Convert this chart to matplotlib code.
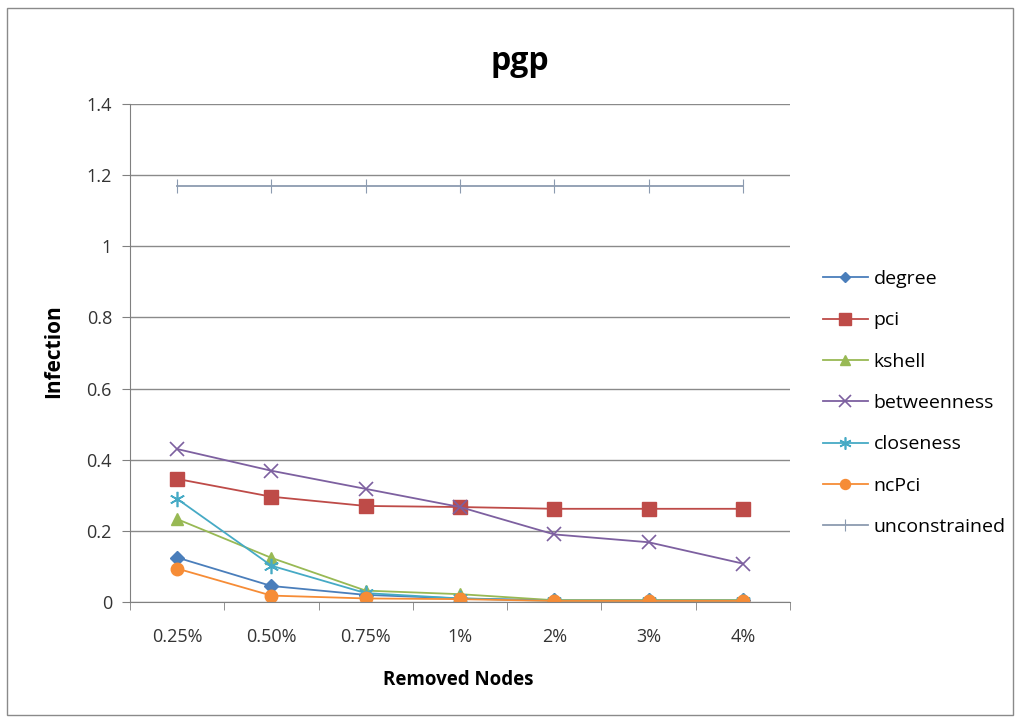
import matplotlib
matplotlib.use("Agg")
import matplotlib.pyplot as plt
import numpy as np
from matplotlib.patches import Rectangle

plt.rcParams["font.family"] = ["Open Sans", "DejaVu Sans"]

CATEGORIES = ["0.25%", "0.50%", "0.75%", "1%", "2%", "3%", "4%"]
DEGREE = [0.125, 0.045, 0.02, 0.01, 0.005, 0.005, 0.005]
PCI = [0.346, 0.296, 0.27, 0.267, 0.262, 0.262, 0.262]
KSHELL = [0.233, 0.124, 0.032, 0.022, 0.005, 0.005, 0.005]
BETWEENNESS = [0.43, 0.369, 0.318, 0.267, 0.19, 0.168, 0.108]
CLOSENESS = [0.29, 0.102, 0.025, 0.01, 0.003, 0.003, 0.003]
NCPCI = [0.094, 0.018, 0.01, 0.008, 0.003, 0.003, 0.003]
UNCONSTRAINED = [1.17, 1.17, 1.17, 1.17, 1.17, 1.17, 1.17]

SERIES = [
    ("degree", DEGREE, "#4A7EBB", "D", 7, None),
    ("pci", PCI, "#BE4B48", "s", 10, None),
    ("kshell", KSHELL, "#98B954", "^", 9, None),
    ("betweenness", BETWEENNESS, "#7D60A0", "x", 10, 1.2),
    ("closeness", CLOSENESS, "#46AAC5", (6, 2, 0), 11, 1.2),
    ("ncPci", NCPCI, "#F68C36", "o", 9, None),
    ("unconstrained", UNCONSTRAINED, "#8C9BB0", "|", 10, 0.8),
]

W, H = 1021, 722
fig = plt.figure(figsize=(W / 100, H / 100), dpi=100)
fig.patches.append(
    Rectangle((7 / W, 7 / H), 1006 / W, 707 / H, transform=fig.transFigure,
              fill=False, edgecolor="#8a8a8a", linewidth=1.0)
)
ax = fig.add_axes([130 / W, 1 - 602 / H, 660 / W, 498 / H])

x = np.arange(len(CATEGORIES))
for name, values, color, marker, size, mew in SERIES:
    kw = {}
    if mew is not None:
        kw["markeredgewidth"] = mew
    ax.plot(x, values, color=color, linewidth=1.3, marker=marker, markersize=size,
            markerfacecolor=color, markeredgecolor=color, label=name, **kw)

ax.set_xlim(-0.5, len(CATEGORIES) - 0.5)
ax.set_ylim(0, 1.4)
ax.set_yticks(np.arange(0, 1.41, 0.2))
ax.set_yticklabels(["0", "0.2", "0.4", "0.6", "0.8", "1", "1.2", "1.4"], fontsize=13)
ax.set_xticks(x)
ax.set_xticklabels(CATEGORIES, fontsize=13)
ax.set_xticks(np.arange(-0.5, len(CATEGORIES), 1.0), minor=True)
ax.tick_params(axis="x", which="major", length=0, pad=19, colors="#333333")
ax.tick_params(axis="x", which="minor", length=6, direction="out", color="#808080")
ax.tick_params(axis="y", length=6, direction="out", color="#808080", colors="#333333", pad=7)

ax.grid(axis="y", color="#8a8a8a", linewidth=1.0)
ax.set_axisbelow(True)
for side in ["top", "right"]:
    ax.spines[side].set_visible(False)
for side in ["left", "bottom"]:
    ax.spines[side].set_color("#808080")

fig.text(54 / W, 1 - 351 / H, "Infection", fontsize=15, fontweight="bold",
         rotation=90, ha="center", va="center")
fig.text(458 / W, 1 - 680 / H, "Removed Nodes", fontsize=13.5, fontweight="bold",
         ha="center", va="center")
fig.text(520 / W, 1 - 61 / H, "pgp", fontsize=23, fontweight="bold",
         ha="center", va="center")

ax.legend(loc="upper left", bbox_to_anchor=(823 / W, 1 - 270 / H),
          bbox_transform=fig.transFigure, frameon=False, fontsize=14,
          borderpad=0, borderaxespad=0,
          handlelength=2.3, handletextpad=0.3, labelspacing=1.2, markerscale=0.8)

fig.savefig("out.png", dpi=100, facecolor="white")
